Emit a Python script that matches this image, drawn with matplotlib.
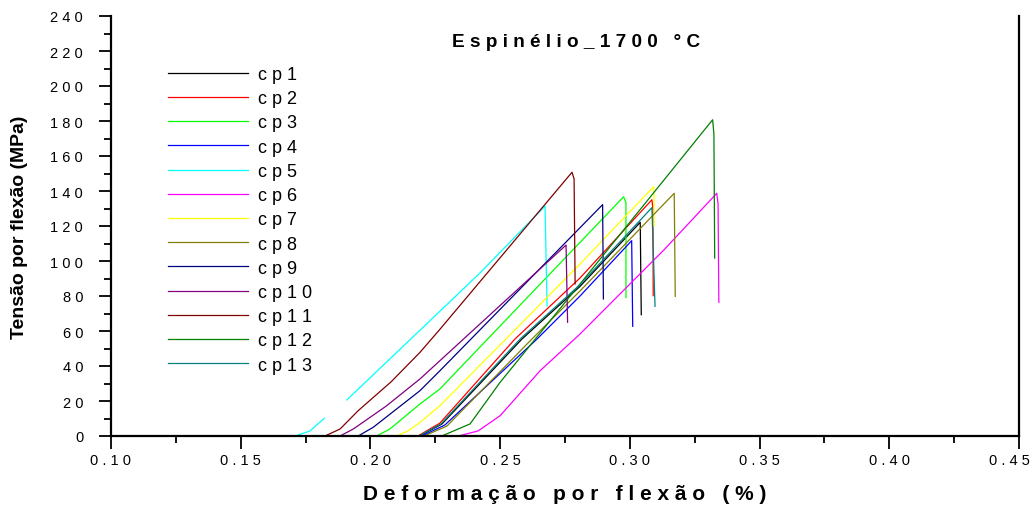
import numpy as np
import matplotlib.pyplot as plt
from matplotlib.ticker import MultipleLocator, FixedLocator
from matplotlib.transforms import ScaledTranslation

plt.rcParams['font.family'] = ['Liberation Sans', 'DejaVu Sans']

nan = np.nan

# Flexural stress-strain curves, strain in %, stress in MPa
cp1_strain = [0.2191, 0.2276, 0.2584, 0.2808, 0.3040, 0.3044]
cp1_stress = [0, 6.9, 55.4, 85.5, 122.1, 69.3]
cp2_strain = [0.2183, 0.2268, 0.2557, 0.2808, 0.3085, 0.3089, 0.3090]
cp2_stress = [0, 7.4, 55.4, 90.3, 135.0, 129.7, 80.2]
cp3_strain = [0.2024, 0.2075, 0.2191, 0.2268, 0.2976, 0.2985, 0.2985]
cp3_stress = [0, 4.0, 18.3, 26.9, 136.7, 133.3, 79.1]
cp4_strain = [0.2199, 0.2287, 0.2642, 0.2808, 0.3007, 0.3011]
cp4_stress = [0, 6.3, 55.4, 80.0, 111.6, 62.7]
cp5_strain = [0.1709, 0.1767, 0.1822, nan, 0.1909, 0.2422, 0.2673, 0.2681]
cp5_stress = [0, 2.9, 10.1, nan, 20.6, 93.1, 131.4, 74.3]
cp6_strain = [0.2339, 0.2415, 0.2500, 0.2654, 0.2808, 0.3135, 0.3335, 0.3340, 0.3343]
cp6_stress = [0, 2.9, 11.6, 37.3, 58.3, 106.9, 138.7, 132.6, 76.4]
cp7_strain = [0.2101, 0.2146, 0.2191, 0.2268, 0.2808, 0.3092, 0.3093, 0.3093]
cp7_stress = [0, 3.0, 7.8, 17.3, 98.3, 142.5, 138.3, 120.0]
cp8_strain = [0.2207, 0.2295, 0.2615, 0.2808, 0.3171, 0.3175]
cp8_stress = [0, 5.7, 54.3, 82.9, 138.7, 79.8]
cp9_strain = [0.1953, 0.2011, 0.2191, 0.2268, 0.2895, 0.2898]
cp9_stress = [0, 5.0, 25.9, 37.3, 132.2, 78.3]
cp10_strain = [0.1883, 0.1934, 0.2060, 0.2191, 0.2754, 0.2760]
cp10_stress = [0, 4.0, 17.0, 32.6, 109.1, 65.0]
cp11_strain = [0.1825, 0.1883, 0.1953, 0.2080, 0.2191, 0.2268, 0.2777, 0.2785, 0.2789]
cp11_stress = [0, 4.0, 14.5, 31.0, 47.8, 61.0, 150.7, 146.9, 86.9]
cp12_strain = [0.2275, 0.2384, 0.2500, 0.2808, 0.3319, 0.3324, 0.3327]
cp12_stress = [0, 6.9, 30.7, 86.9, 180.7, 172.6, 101.7]
cp13_strain = [0.2187, 0.2272, 0.2577, 0.2808, 0.3085, 0.3097]
cp13_stress = [0, 6.9, 55.4, 86.5, 130.5, 74.1]

strains = [cp1_strain, cp2_strain, cp3_strain, cp4_strain, cp5_strain, cp6_strain, cp7_strain,
           cp8_strain, cp9_strain, cp10_strain, cp11_strain, cp12_strain, cp13_strain]
stresses = [cp1_stress, cp2_stress, cp3_stress, cp4_stress, cp5_stress, cp6_stress, cp7_stress,
            cp8_stress, cp9_stress, cp10_stress, cp11_stress, cp12_stress, cp13_stress]
labels = ['c p 1', 'c p 2', 'c p 3', 'c p 4', 'c p 5', 'c p 6', 'c p 7',
          'c p 8', 'c p 9', 'c p 1 0', 'c p 1 1', 'c p 1 2', 'c p 1 3']
colors = ['#000000', '#ff0000', '#00ff00', '#0000ff', '#00ffff', '#ff00ff', '#ffff00',
          '#808000', '#000080', '#800080', '#800000', '#008000', '#008080']

x_ticks = [0.10, 0.15, 0.20, 0.25, 0.30, 0.35, 0.40, 0.45]
y_ticks = [0, 20, 40, 60, 80, 100, 120, 140, 160, 180, 200, 220, 240]


def spaced(s):
    return ' '.join(s)


fig = plt.figure(figsize=(10.32, 5.06), dpi=100)
ax = fig.add_axes([111 / 1032, 69 / 506, 908 / 1032, 420 / 506])

for x, y, lab, col in zip(strains, stresses, labels, colors):
    ax.plot(x, y, color=col, lw=0.9, label=lab)

ax.set_xlim(0.10, 0.45)
ax.set_ylim(0, 240)

ax.xaxis.set_major_locator(FixedLocator(x_ticks))
ax.xaxis.set_minor_locator(MultipleLocator(0.025))
ax.yaxis.set_major_locator(FixedLocator(y_ticks))
ax.yaxis.set_minor_locator(MultipleLocator(10))
ax.set_xticklabels([spaced(f'{v:.2f}') for v in x_ticks])
ax.set_yticklabels([spaced(str(v)) for v in y_ticks])
ax.tick_params(which='major', direction='out', length=9, width=1.3, labelsize=10.5)
ax.tick_params(which='minor', direction='out', length=5, width=1.3)
ax.tick_params(axis='y', which='major', pad=11)
ax.tick_params(axis='y', which='both', right=False)

# last x label sits at the figure edge, nudge it inwards
last = ax.get_xticklabels()[-1]
last.set_transform(last.get_transform() + ScaledTranslation(-0.10, 0, fig.dpi_scale_trans))

for side in ['left', 'bottom', 'right']:
    ax.spines[side].set_linewidth(1.6)
ax.spines['top'].set_visible(False)

ax.set_xlabel(spaced('Deformação por flexão (%)'), fontsize=15, fontweight='bold',
              family=['Liberation Sans Narrow', 'Liberation Sans'], labelpad=12)
ax.set_ylabel('Tensão por flexão (MPa)', fontsize=14, fontweight='bold', labelpad=16)

ax.text(0.512, 0.94, spaced('Espinélio_1700 °C'), transform=ax.transAxes,
        ha='center', va='center', fontsize=13.7, fontweight='bold')

ax.legend(loc='upper left', bbox_to_anchor=(168 / 1032, 1 - 67 / 506),
          bbox_transform=fig.transFigure, frameon=False, fontsize=13,
          handlelength=4.43, handletextpad=0.55, labelspacing=0.40,
          borderpad=0, borderaxespad=0)

fig.savefig('out.png', dpi=100)
